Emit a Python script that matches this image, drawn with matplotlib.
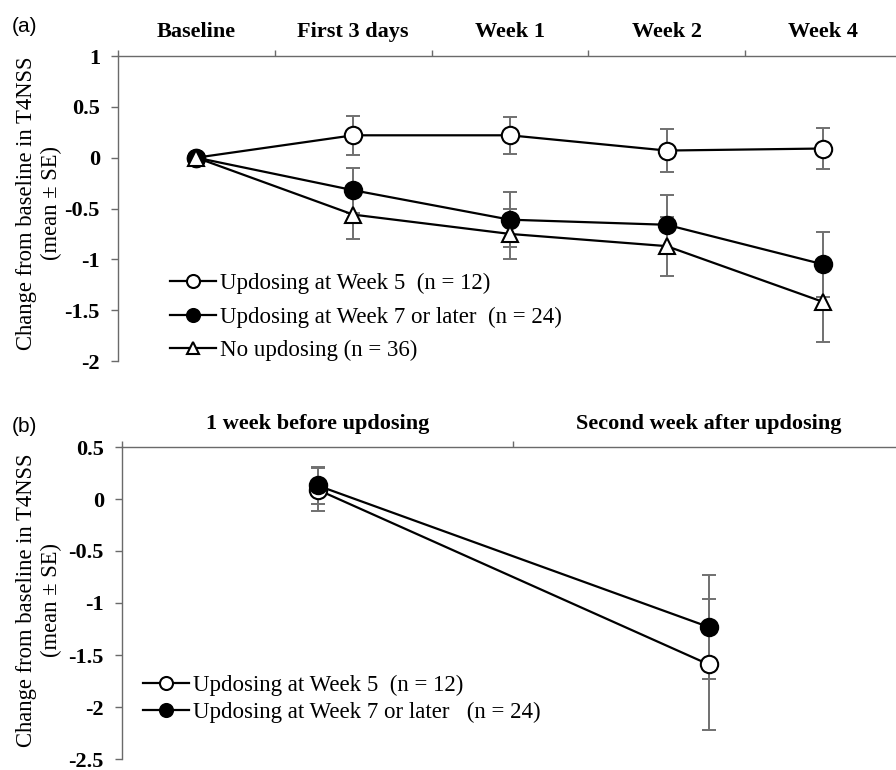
"""
plot.py - change from baseline in T4NSS, panels (a) and (b)
"""

import numpy as np
import matplotlib
matplotlib.use("Agg")
import matplotlib.pyplot as plt

# ------------------------------------------------------------------
# Data
# ------------------------------------------------------------------
categories_a = ["Baseline", "First 3 days", "Week 1", "Week 2", "Week 4"]
wk5_mean = [0.0, 0.22, 0.22, 0.07, 0.09]
wk5_se = [np.nan, 0.19, 0.18, 0.21, 0.20]
wk7_mean = [0.0, -0.32, -0.61, -0.66, -1.05]
wk7_se = [np.nan, 0.22, 0.27, 0.29, 0.32]
none_mean = [0.0, -0.56, -0.75, -0.87, -1.42]
none_se = [np.nan, 0.24, 0.25, 0.29, 0.39]

categories_b = ["1 week before updosing", "Second week after updosing"]
b_wk5_mean = [0.09, -1.59]
b_wk5_se = [0.21, 0.63]
b_wk7_mean = [0.13, -1.23]
b_wk7_se = [0.18, 0.50]

yticks_a = [1, 0.5, 0, -0.5, -1, -1.5, -2]
ytick_labels_a = ["1", "0.5", "0", "-0.5", "-1", "-1.5", "-2"]
yticks_b = [0.5, 0, -0.5, -1, -1.5, -2, -2.5]
ytick_labels_b = ["0.5", "0", "-0.5", "-1", "-1.5", "-2", "-2.5"]

labels_a = ["Updosing at Week 5  (n = 12)",
            "Updosing at Week 7 or later  (n = 24)",
            "No updosing (n = 36)"]
labels_b = ["Updosing at Week 5  (n = 12)",
            "Updosing at Week 7 or later   (n = 24)"]

SERIF = "Liberation Serif"
SANS = "Liberation Sans"
FS = 16
AXIS_GRAY = "#6a6a6a"
ERR_GRAY = "#707070"

W, H = 896, 770
fig = plt.figure(figsize=(W / 100, H / 100), dpi=100)


def px_axes(left, top, right, bottom):
    return fig.add_axes([left / W, 1 - bottom / H, (right - left) / W, (bottom - top) / H])


def style_axes(ax, categories, xmax, yticks, ylabels, ymin, ymax, xpad):
    n = len(categories)
    ax.set_xlim(-0.5, xmax)
    ax.set_ylim(ymin, ymax)
    for side in ["right", "bottom"]:
        ax.spines[side].set_visible(False)
    for side in ["left", "top"]:
        ax.spines[side].set_color(AXIS_GRAY)
        ax.spines[side].set_linewidth(1.0)

    ax.xaxis.set_ticks_position("top")
    ax.set_xticks(np.arange(n) - 0.5)
    ax.set_xticklabels([""] * n)
    ax.set_xticks(np.arange(n), minor=True)
    ax.set_xticklabels(categories, minor=True, fontfamily=SERIF,
                       fontweight="bold", fontsize=FS)
    ax.tick_params(axis="x", which="major", direction="out", length=4.5,
                   width=1.0, color=AXIS_GRAY, top=True, bottom=False)
    ax.tick_params(axis="x", which="minor", length=0, pad=xpad,
                   labeltop=True, labelbottom=False, top=True, bottom=False)

    ax.set_yticks(yticks)
    ax.set_yticklabels(ylabels, fontfamily=SERIF, fontweight="bold", fontsize=FS)
    ax.tick_params(axis="y", direction="out", length=5, width=1.0,
                   color=AXIS_GRAY, pad=8)


def draw_series(ax, means, ses, marker, face, size):
    x = np.arange(len(means))
    m = np.array(means)
    s = np.array(ses)
    ok = ~np.isnan(s)
    ax.errorbar(x[ok], m[ok], yerr=s[ok], fmt="none", ecolor=ERR_GRAY,
                elinewidth=1.4, capsize=5, capthick=1.4, zorder=2)
    line, = ax.plot(x, m, color="black", linewidth=1.6, marker=marker,
                    markersize=size, markerfacecolor=face,
                    markeredgecolor="black", markeredgewidth=1.5, zorder=3)
    return line


# ------------------------------------------------------------------
# Panel (a)
# ------------------------------------------------------------------
ax_a = px_axes(118, 56, 896, 361)
style_axes(ax_a, categories_a, -0.5 + 778 / 156.75, yticks_a, ytick_labels_a,
           -2, 1, 10)
h1 = draw_series(ax_a, wk5_mean, wk5_se, "o", "white", 12.5)
h2 = draw_series(ax_a, wk7_mean, wk7_se, "o", "black", 12.5)
h3 = draw_series(ax_a, none_mean, none_se, "^", "white", 11)
ax_a.legend([h1, h2, h3], labels_a, loc="upper left",
            bbox_to_anchor=(52 / 778, 0.29), frameon=False, borderpad=0,
            borderaxespad=0, handlelength=2.0, handletextpad=0.2,
            labelspacing=0.55, markerscale=0.75,
            prop={"family": SERIF, "size": 16.5})

# ------------------------------------------------------------------
# Panel (b)
# ------------------------------------------------------------------
ax_b = px_axes(122, 447, 896, 759)
style_axes(ax_b, categories_b, -0.5 + 774 / 391, yticks_b, ytick_labels_b,
           -2.5, 0.5, 9)
g1 = draw_series(ax_b, b_wk5_mean, b_wk5_se, "o", "white", 12.5)
g2 = draw_series(ax_b, b_wk7_mean, b_wk7_se, "o", "black", 12.5)
ax_b.legend([g1, g2], labels_b, loc="upper left",
            bbox_to_anchor=(21 / 774, 0.27), frameon=False, borderpad=0,
            borderaxespad=0, handlelength=2.0, handletextpad=0.2,
            labelspacing=0.27, markerscale=0.75,
            prop={"family": SERIF, "size": 16.5})

# ------------------------------------------------------------------
# Axis titles and panel letters
# ------------------------------------------------------------------
ylab = "Change from baseline in T4NSS\n(mean \u00b1 SE)"
fig.text(39 / W, 1 - 203 / H, ylab, rotation=90, ha="center", va="center",
         multialignment="center", fontfamily=SERIF, fontsize=16.3)
fig.text(39 / W, 1 - 600 / H, ylab, rotation=90, ha="center", va="center",
         multialignment="center", fontfamily=SERIF, fontsize=16.3)
fig.text(12 / W, 1 - 26 / H, "(a)", ha="left", va="center",
         fontfamily=SANS, fontsize=15)
fig.text(12 / W, 1 - 427 / H, "(b)", ha="left", va="center",
         fontfamily=SANS, fontsize=15)

fig.savefig("out.png", dpi=100)
plt.close(fig)
